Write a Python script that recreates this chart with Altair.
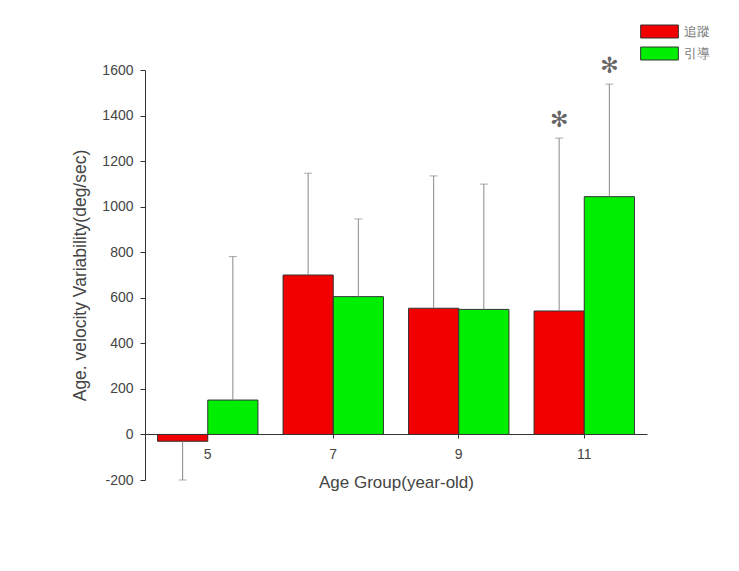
import altair as alt
import pandas as pd

ages = ["5", "7", "9", "11"]
groups = ["追蹤", "引導"]
means_track = [-30, 700, 554, 542]
means_guide = [151, 605, 549, 1044]
err_track = [170, 447, 581, 759]
err_guide = [630, 341, 550, 494]
sig_track = ["", "", "", "✻"]
sig_guide = ["", "", "", "✻"]
ytick_values = list(range(-200, 1601, 100))

rows = []
for i, a in enumerate(ages):
    for g, m, e, s in ((groups[0], means_track[i], err_track[i], sig_track[i]),
                       (groups[1], means_guide[i], err_guide[i], sig_guide[i])):
        end = m + e if m >= 0 else m - e
        rows.append({"age": a, "group": g, "mean": m, "end": end, "sig": s})
df = pd.DataFrame(rows)

FONT = "Liberation Sans"
colors = ["#f20000", "#00ee00"]

x = alt.X("age:N", sort=ages, title="Age Group(year-old)",
          scale=alt.Scale(paddingInner=0.2, paddingOuter=0.1),
          axis=alt.Axis(orient="bottom", offset=-46, labelAngle=0, tickSize=4,
                        labelPadding=9, titlePadding=13, domainColor="#333",
                        tickColor="#333", labelFont=FONT, titleFont=FONT,
                        labelFontSize=14, titleFontSize=17, labelColor="#444",
                        titleColor="#444", titleFontWeight="normal"))
xoff = alt.XOffset("group:N", sort=groups)
yscale = alt.Scale(domain=[-200, 1600], nice=False, zero=False)

bars = alt.Chart(df).mark_bar(stroke="#333", strokeWidth=1).encode(
    x=x, xOffset=xoff,
    y=alt.Y("mean:Q", scale=yscale, title="Age. velocity Variability(deg/sec)",
            axis=alt.Axis(values=ytick_values,
                          labelExpr="datum.value % 200 == 0 ? '' + datum.value : ''",
                          tickSize={"condition": {"test": "datum.value % 200 != 0", "value": 3}, "value": 5},
                          labelPadding=7, titlePadding=12, grid=False,
                          domainColor="#333", tickColor="#333",
                          labelFont=FONT, titleFont=FONT, labelFontSize=14,
                          titleFontSize=17.5, labelColor="#444", titleColor="#444",
                          titleFontWeight="normal")),
    y2=alt.Y2(datum=0),
    color=alt.Color("group:N", sort=groups,
                    scale=alt.Scale(domain=groups, range=colors),
                    legend=alt.Legend(title=None, orient="none", legendX=507.5,
                                      legendY=-45.5, symbolType="M-2.9,-1H2.9V1H-2.9Z",
                                      symbolSize=169, symbolStrokeColor="#333",
                                      symbolStrokeWidth=1, labelFont=FONT,
                                      labelFontSize=13, labelColor="#777",
                                      rowPadding=4, labelOffset=17.5)),
)

rules = alt.Chart(df).mark_rule(color="#888", strokeWidth=1).encode(
    x=alt.X("age:N", sort=ages), xOffset=xoff,
    y=alt.Y("mean:Q"), y2="end:Q",
)
caps = alt.Chart(df).mark_tick(color="#888", thickness=1, size=8, orient="horizontal").encode(
    x=alt.X("age:N", sort=ages), xOffset=xoff, y=alt.Y("end:Q"),
)
stars = alt.Chart(df).mark_text(fontSize=22, font="DejaVu Sans", color="#666",
                                baseline="middle", dy=-18).encode(
    x=alt.X("age:N", sort=ages), xOffset=xoff, y=alt.Y("end:Q"),
    text="sig:N",
)

chart = alt.layer(bars, rules, caps, stars).properties(
    width=502, height=410,
    autosize=alt.AutoSizeParams(type="none"),
    padding={"left": 137, "top": 62, "right": 80, "bottom": 80},
).configure_view(stroke="transparent")

chart.save("out.html", embed_options={"renderer": "svg", "actions": False})
